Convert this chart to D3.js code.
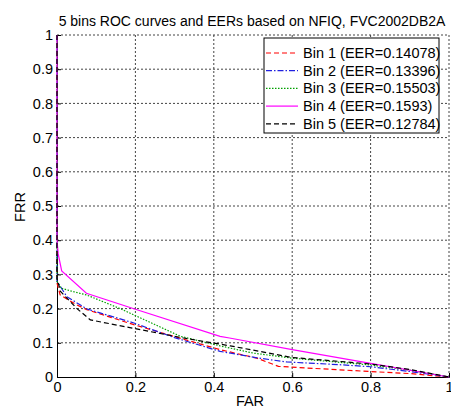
<!DOCTYPE html>
<html>
<head>
<meta charset="utf-8">
<script src="https://cdn.jsdelivr.net/npm/d3@7"></script>
<style>
  body { margin: 0; background: #fff; }
  text { font-family: "Liberation Sans", Arial, sans-serif; }
</style>
</head>
<body>
<div id="dataviz"></div>
<script>
// data
const binNames = ["Bin 1 (EER=0.14078)", "Bin 2 (EER=0.13396)", "Bin 3 (EER=0.15503)", "Bin 4 (EER=0.1593)", "Bin 5 (EER=0.12784)"];
const bin1 = [[0, 1], [0, 0.275], [0.008, 0.24], [0.05, 0.211], [0.076, 0.197], [0.196, 0.153], [0.3, 0.118], [0.416, 0.08], [0.51, 0.055], [0.565, 0.031], [0.72, 0.021], [0.8, 0.016], [0.9, 0.01], [1, 0]];
const bin2 = [[0, 1], [0, 0.28], [0.025, 0.235], [0.076, 0.199], [0.196, 0.158], [0.3, 0.115], [0.416, 0.075], [0.466, 0.065], [0.51, 0.056], [0.586, 0.044], [0.72, 0.036], [0.8, 0.03], [0.9, 0.016], [1, 0]];
const bin3 = [[0, 1], [0, 0.28], [0.01, 0.26], [0.04, 0.25], [0.075, 0.24], [0.161, 0.2], [0.315, 0.119], [0.416, 0.091], [0.5, 0.07], [0.6, 0.055], [0.8, 0.035], [0.9, 0.02], [1, 0]];
const bin4 = [[0, 1], [0, 0.4], [0.003, 0.36], [0.012, 0.31], [0.075, 0.245], [0.2, 0.198], [0.416, 0.119], [0.44, 0.114], [0.6, 0.08], [0.8, 0.04], [1, 0]];
const bin5 = [[0, 1], [0, 0.289], [0.009, 0.25], [0.051, 0.2], [0.085, 0.167], [0.192, 0.143], [0.323, 0.114], [0.442, 0.091], [0.6, 0.057], [0.8, 0.038], [0.9, 0.022], [1, 0]];
const xTicks = [0, 0.2, 0.4, 0.6, 0.8, 1];
const yTicks = [0, 0.1, 0.2, 0.3, 0.4, 0.5, 0.6, 0.7, 0.8, 0.9, 1];

const colors = ["#ff0000", "#2020e0", "#00a000", "#ff00ff", "#000000"];
const dashes = ["5,3", "6,2,1.5,2", "1.5,1.5", null, "5,3"];
const series = [bin1, bin2, bin3, bin4, bin5];
const fs = 14.5;

const margin = { top: 35, right: 2, bottom: 30, left: 57 },
  width = 451 - margin.left - margin.right,
  height = 407 - margin.top - margin.bottom;

const svg = d3
  .select("#dataviz")
  .append("svg")
  .attr("width", 451)
  .attr("height", 407)
  .append("g")
  .attr("transform", "translate(" + margin.left + "," + margin.top + ")");

const x = d3.scaleLinear().domain([0, 1]).range([0, width]);
const y = d3.scaleLinear().domain([0, 1]).range([height, 0]);

// grid
svg
  .append("g")
  .selectAll("line")
  .data(xTicks.slice(1))
  .enter()
  .append("line")
  .attr("x1", (d) => x(d))
  .attr("x2", (d) => x(d))
  .attr("y1", 0)
  .attr("y2", height)
  .attr("stroke", "#444")
  .attr("stroke-dasharray", "2,2");
svg
  .append("g")
  .selectAll("line")
  .data(yTicks.slice(1))
  .enter()
  .append("line")
  .attr("y1", (d) => y(d))
  .attr("y2", (d) => y(d))
  .attr("x1", 0)
  .attr("x2", width)
  .attr("stroke", "#444")
  .attr("stroke-dasharray", "2,2");

// axes
const xAxis = svg
  .append("g")
  .attr("transform", "translate(0," + height + ")")
  .call(d3.axisBottom(x).tickValues(xTicks).tickFormat(d3.format("")).tickSize(-4).tickPadding(8));
const yAxis = svg
  .append("g")
  .call(d3.axisLeft(y).tickValues(yTicks).tickFormat(d3.format("")).tickSize(-4).tickPadding(4));
[xAxis, yAxis].forEach((a) => {
  a.select(".domain").attr("stroke", "#000");
  a.selectAll(".tick line").attr("stroke", "#000");
  a.selectAll("text").attr("font-size", fs).attr("fill", "#000").style("font-family", "Liberation Sans, Arial, sans-serif");
});
xAxis.selectAll(".tick text").attr("dy", "0.71em").attr("y", 5);

// curves
const line = d3
  .line()
  .x((d) => x(d[0]))
  .y((d) => y(d[1]));
svg
  .selectAll(".curve")
  .data(series)
  .enter()
  .append("path")
  .attr("class", "curve")
  .attr("fill", "none")
  .attr("stroke", (d, i) => colors[i])
  .attr("stroke-width", 1.2)
  .attr("stroke-dasharray", (d, i) => dashes[i])
  .attr("d", line);

// title and labels
svg
  .append("text")
  .attr("x", width / 2 - 1)
  .attr("y", -9)
  .attr("text-anchor", "middle")
  .attr("font-size", 14)
  .text("5 bins ROC curves and EERs based on NFIQ, FVC2002DB2A");
svg
  .append("text")
  .attr("x", width / 2 - 3)
  .attr("y", height + 29)
  .attr("text-anchor", "middle")
  .attr("font-size", fs)
  .text("FAR");
svg
  .append("text")
  .attr("transform", "translate(" + (-32) + "," + (y(0.5) + 1) + ") rotate(-90)")
  .attr("text-anchor", "middle")
  .attr("font-size", fs)
  .text("FRR");

// legend
const legend = svg.append("g").attr("transform", "translate(" + (264 - margin.left) + "," + (38 - margin.top) + ")");
legend
  .append("rect")
  .attr("width", 175)
  .attr("height", 95)
  .attr("fill", "#fff")
  .attr("stroke", "#000");
legend
  .selectAll(".lline")
  .data(binNames)
  .enter()
  .append("line")
  .attr("x1", 2)
  .attr("x2", 34)
  .attr("y1", (d, i) => 15 + i * 17.7)
  .attr("y2", (d, i) => 15 + i * 17.7)
  .attr("stroke", (d, i) => colors[i])
  .attr("stroke-width", 1.2)
  .attr("stroke-dasharray", (d, i) => dashes[i]);
legend
  .selectAll(".ltext")
  .data(binNames)
  .enter()
  .append("text")
  .attr("x", 39)
  .attr("y", (d, i) => 15 + i * 17.7)
  .attr("dy", "0.35em")
  .attr("font-size", fs)
  .text((d) => d);
</script>
</body>
</html>
